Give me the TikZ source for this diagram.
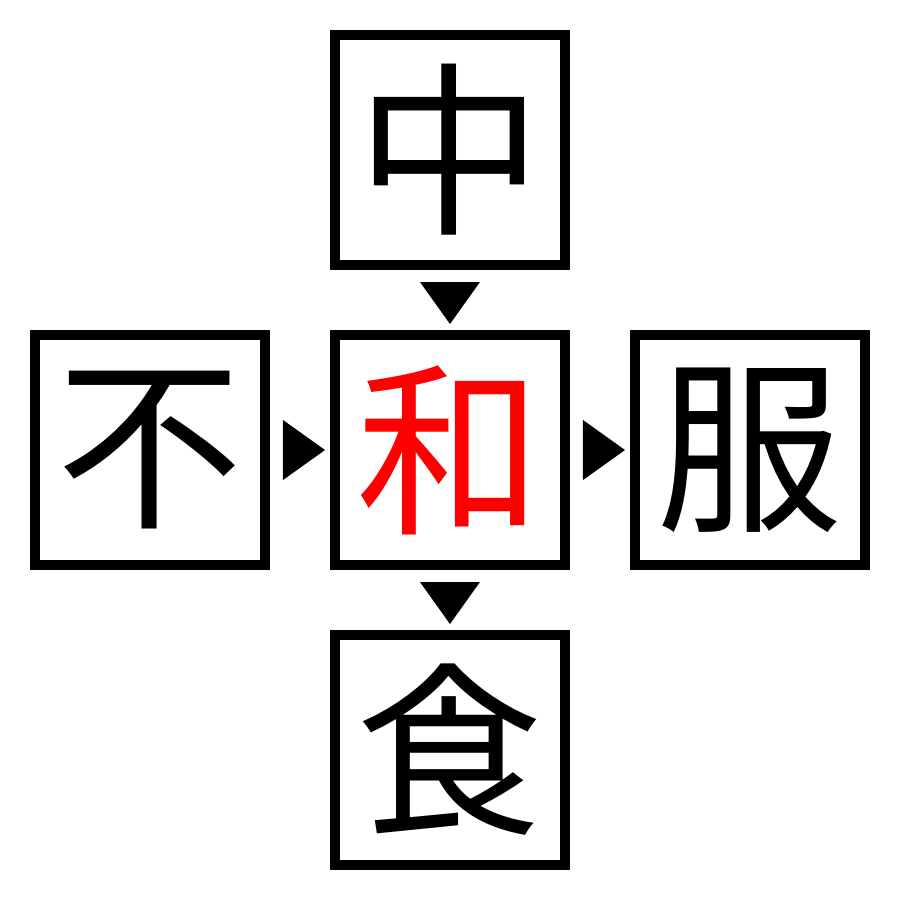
\documentclass[tikz,border=0pt]{standalone}
\usepackage{fontspec}
\newfontfamily\cjk{Noto Sans CJK JP}
\usetikzlibrary{positioning,calc}

\tikzset{
  zibox/.style={draw,line width=0.1cm,minimum size=2.3cm,inner sep=0pt,
    font=\cjk\fontsize{53}{53}\selectfont},
  tri/.style={fill=black}
}

\begin{document}
\begin{tikzpicture}
                \useasboundingbox (-4.5,-4.5) rectangle (4.5,4.5);
                \node[zibox,text=red] (he) at (0,0) {和};
                \node[zibox] (zhong) at (0,3) {中};
                \node[zibox] (bu) at (-3,0) {不};
                \node[zibox] (fu) at (3,0) {服};
                \node[zibox] (shi) at (0,-3) {食};

                % downward triangles
                \fill[tri] ($(zhong.south)+(-0.3,-0.12)$) -- ($(zhong.south)+(0.3,-0.12)$) -- ($(zhong.south)+(0,-0.54)$) -- cycle;
                \fill[tri] ($(he.south)+(-0.3,-0.12)$) -- ($(he.south)+(0.3,-0.12)$) -- ($(he.south)+(0,-0.54)$) -- cycle;
                % rightward triangles
                \fill[tri] ($(bu.east)+(0.13,0.3)$) -- ($(bu.east)+(0.13,-0.3)$) -- ($(bu.east)+(0.55,0)$) -- cycle;
                \fill[tri] ($(he.east)+(0.13,0.3)$) -- ($(he.east)+(0.13,-0.3)$) -- ($(he.east)+(0.55,0)$) -- cycle;
            \end{tikzpicture}
\end{document}
